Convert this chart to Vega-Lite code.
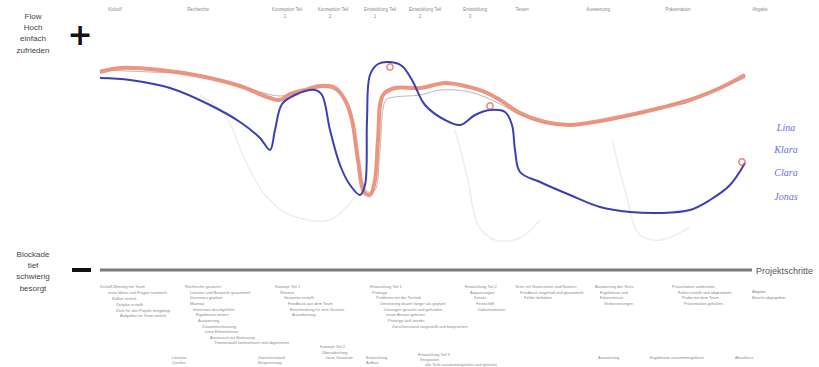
{
  "$schema": "https://vega.github.io/schema/vega-lite/v6.json",
  "width": 819,
  "height": 367,
  "padding": 0,
  "autosize": {"type": "fit", "contains": "padding"},
  "background": "white",
  "config": {"view": {"stroke": null}},
  "datasets": {
    "lines": [
      {"serie": "blass1", "i": 1, "x": 200, "y": 272}, {"serie": "blass1", "i": 2, "x": 225, "y": 252}, {"serie": "blass1", "i": 3, "x": 245, "y": 207}, {"serie": "blass1", "i": 4, "x": 265, "y": 172}, {"serie": "blass1", "i": 5, "x": 290, "y": 152}, {"serie": "blass1", "i": 6, "x": 330, "y": 147}, {"serie": "blass1", "i": 7, "x": 355, "y": 170},
      {"serie": "blass2", "i": 1, "x": 455, "y": 237}, {"serie": "blass2", "i": 2, "x": 468, "y": 187}, {"serie": "blass2", "i": 3, "x": 478, "y": 142}, {"serie": "blass2", "i": 4, "x": 495, "y": 127}, {"serie": "blass2", "i": 5, "x": 520, "y": 129}, {"serie": "blass2", "i": 6, "x": 540, "y": 147},
      {"serie": "blass3", "i": 1, "x": 612, "y": 227}, {"serie": "blass3", "i": 2, "x": 625, "y": 177}, {"serie": "blass3", "i": 3, "x": 640, "y": 132}, {"serie": "blass3", "i": 4, "x": 660, "y": 127}, {"serie": "blass3", "i": 5, "x": 690, "y": 140},
      {"serie": "grau", "i": 1, "x": 100, "y": 297}, {"serie": "grau", "i": 2, "x": 150, "y": 295}, {"serie": "grau", "i": 3, "x": 200, "y": 292}, {"serie": "grau", "i": 4, "x": 240, "y": 281}, {"serie": "grau", "i": 5, "x": 280, "y": 271}, {"serie": "grau", "i": 6, "x": 300, "y": 275}, {"serie": "grau", "i": 7, "x": 330, "y": 279}, {"serie": "grau", "i": 8, "x": 348, "y": 263}, {"serie": "grau", "i": 9, "x": 355, "y": 227}, {"serie": "grau", "i": 10, "x": 362, "y": 187}, {"serie": "grau", "i": 11, "x": 368, "y": 175}, {"serie": "grau", "i": 12, "x": 375, "y": 177}, {"serie": "grau", "i": 13, "x": 380, "y": 217}, {"serie": "grau", "i": 14, "x": 386, "y": 267}, {"serie": "grau", "i": 15, "x": 395, "y": 270}, {"serie": "grau", "i": 16, "x": 420, "y": 272}, {"serie": "grau", "i": 17, "x": 440, "y": 277}, {"serie": "grau", "i": 18, "x": 470, "y": 275}, {"serie": "grau", "i": 19, "x": 500, "y": 263}, {"serie": "grau", "i": 20, "x": 520, "y": 252}, {"serie": "grau", "i": 21, "x": 545, "y": 244}, {"serie": "grau", "i": 22, "x": 580, "y": 243}, {"serie": "grau", "i": 23, "x": 620, "y": 249}, {"serie": "grau", "i": 24, "x": 660, "y": 259}, {"serie": "grau", "i": 25, "x": 700, "y": 272}, {"serie": "grau", "i": 26, "x": 745, "y": 289},
      {"serie": "orange", "i": 1, "x": 100, "y": 295}, {"serie": "orange", "i": 2, "x": 120, "y": 299}, {"serie": "orange", "i": 3, "x": 160, "y": 297}, {"serie": "orange", "i": 4, "x": 200, "y": 291}, {"serie": "orange", "i": 5, "x": 240, "y": 281}, {"serie": "orange", "i": 6, "x": 270, "y": 269}, {"serie": "orange", "i": 7, "x": 280, "y": 267}, {"serie": "orange", "i": 8, "x": 290, "y": 273}, {"serie": "orange", "i": 9, "x": 305, "y": 277}, {"serie": "orange", "i": 10, "x": 320, "y": 281}, {"serie": "orange", "i": 11, "x": 335, "y": 279}, {"serie": "orange", "i": 12, "x": 345, "y": 267}, {"serie": "orange", "i": 13, "x": 352, "y": 247}, {"serie": "orange", "i": 14, "x": 358, "y": 207}, {"serie": "orange", "i": 15, "x": 364, "y": 175}, {"serie": "orange", "i": 16, "x": 370, "y": 172}, {"serie": "orange", "i": 17, "x": 375, "y": 187}, {"serie": "orange", "i": 18, "x": 378, "y": 227}, {"serie": "orange", "i": 19, "x": 383, "y": 272}, {"serie": "orange", "i": 20, "x": 395, "y": 279}, {"serie": "orange", "i": 21, "x": 420, "y": 279}, {"serie": "orange", "i": 22, "x": 445, "y": 284}, {"serie": "orange", "i": 23, "x": 465, "y": 281}, {"serie": "orange", "i": 24, "x": 485, "y": 275}, {"serie": "orange", "i": 25, "x": 500, "y": 267}, {"serie": "orange", "i": 26, "x": 520, "y": 254}, {"serie": "orange", "i": 27, "x": 545, "y": 245}, {"serie": "orange", "i": 28, "x": 570, "y": 242}, {"serie": "orange", "i": 29, "x": 600, "y": 246}, {"serie": "orange", "i": 30, "x": 630, "y": 252}, {"serie": "orange", "i": 31, "x": 660, "y": 259}, {"serie": "orange", "i": 32, "x": 690, "y": 267}, {"serie": "orange", "i": 33, "x": 720, "y": 279}, {"serie": "orange", "i": 34, "x": 745, "y": 292},
      {"serie": "blau", "i": 1, "x": 100, "y": 289}, {"serie": "blau", "i": 2, "x": 130, "y": 287}, {"serie": "blau", "i": 3, "x": 170, "y": 279}, {"serie": "blau", "i": 4, "x": 210, "y": 262}, {"serie": "blau", "i": 5, "x": 240, "y": 245}, {"serie": "blau", "i": 6, "x": 260, "y": 229}, {"serie": "blau", "i": 7, "x": 270, "y": 217}, {"serie": "blau", "i": 8, "x": 275, "y": 237}, {"serie": "blau", "i": 9, "x": 282, "y": 263}, {"serie": "blau", "i": 10, "x": 295, "y": 272}, {"serie": "blau", "i": 11, "x": 315, "y": 277}, {"serie": "blau", "i": 12, "x": 322, "y": 272}, {"serie": "blau", "i": 13, "x": 330, "y": 237}, {"serie": "blau", "i": 14, "x": 340, "y": 202}, {"serie": "blau", "i": 15, "x": 350, "y": 182}, {"serie": "blau", "i": 16, "x": 360, "y": 172}, {"serie": "blau", "i": 17, "x": 365, "y": 182}, {"serie": "blau", "i": 18, "x": 367, "y": 247}, {"serie": "blau", "i": 19, "x": 370, "y": 292}, {"serie": "blau", "i": 20, "x": 378, "y": 303}, {"serie": "blau", "i": 21, "x": 390, "y": 305}, {"serie": "blau", "i": 22, "x": 402, "y": 301}, {"serie": "blau", "i": 23, "x": 412, "y": 287}, {"serie": "blau", "i": 24, "x": 425, "y": 262}, {"serie": "blau", "i": 25, "x": 445, "y": 247}, {"serie": "blau", "i": 26, "x": 460, "y": 242}, {"serie": "blau", "i": 27, "x": 475, "y": 252}, {"serie": "blau", "i": 28, "x": 490, "y": 257}, {"serie": "blau", "i": 29, "x": 505, "y": 255}, {"serie": "blau", "i": 30, "x": 512, "y": 242}, {"serie": "blau", "i": 31, "x": 515, "y": 217}, {"serie": "blau", "i": 32, "x": 520, "y": 195}, {"serie": "blau", "i": 33, "x": 540, "y": 185}, {"serie": "blau", "i": 34, "x": 570, "y": 172}, {"serie": "blau", "i": 35, "x": 600, "y": 160}, {"serie": "blau", "i": 36, "x": 630, "y": 155}, {"serie": "blau", "i": 37, "x": 660, "y": 154}, {"serie": "blau", "i": 38, "x": 690, "y": 157}, {"serie": "blau", "i": 39, "x": 710, "y": 167}, {"serie": "blau", "i": 40, "x": 730, "y": 182}, {"serie": "blau", "i": 41, "x": 745, "y": 204}
    ],
    "marker": [
      {"x": 390, "y": 300}, {"x": 490, "y": 261}, {"x": 742, "y": 205}
    ],
    "achse": [{"x": 100, "x2": 752, "y": 97}],
    "minus": [{"x": 72, "x2": 91, "y": 97}],
    "gross": [
      {"x": 80, "y": 331, "t": "+"}
    ],
    "links": [
      {"x": 33, "y": 350, "t": "Flow"}, {"x": 33, "y": 339, "t": "Hoch"}, {"x": 33, "y": 328, "t": "einfach"}, {"x": 33, "y": 316, "t": "zufrieden"},
      {"x": 33, "y": 112, "t": "Blockade"}, {"x": 33, "y": 101, "t": "tief"}, {"x": 33, "y": 90, "t": "schwierig"}, {"x": 33, "y": 78, "t": "besorgt"},
      {"x": 756, "y": 96, "t": "Projektschritte", "a": "l"}
    ],
    "namen": [
      {"x": 786, "y": 239, "t": "Lina"}, {"x": 786, "y": 217, "t": "Klara"}, {"x": 786, "y": 194, "t": "Clara"}, {"x": 786, "y": 170, "t": "Jonas"}
    ],
    "oben": [
      {"x": 115, "y": 357, "t": "Kickoff"}, {"x": 198, "y": 357, "t": "Recherche"}, {"x": 287, "y": 357, "t": "Konzeption Teil"}, {"x": 285, "y": 350, "t": "1"},
      {"x": 333, "y": 357, "t": "Konzeption Teil"}, {"x": 330, "y": 350, "t": "2"}, {"x": 380, "y": 357, "t": "Entwicklung Teil"}, {"x": 375, "y": 350, "t": "1"},
      {"x": 425, "y": 357, "t": "Entwicklung Teil"}, {"x": 420, "y": 350, "t": "2"}, {"x": 475, "y": 357, "t": "Entwicklung"}, {"x": 470, "y": 350, "t": "3"},
      {"x": 522, "y": 357, "t": "Testen"}, {"x": 598, "y": 357, "t": "Auswertung"}, {"x": 678, "y": 357, "t": "Präsentation"}, {"x": 760, "y": 357, "t": "Abgabe"}
    ],
    "unten": [
      {"x": 100, "y": 80, "t": "Kickoff-Meeting mit Team"}, {"x": 108, "y": 74, "t": "erste Ideen und Fragen sammeln"}, {"x": 112, "y": 68, "t": "Rollen verteilt"}, {"x": 116, "y": 62, "t": "Zeitplan erstellt"}, {"x": 116, "y": 56, "t": "Ziele für das Projekt festgelegt"}, {"x": 120, "y": 51, "t": "Aufgaben im Team verteilt"},
      {"x": 185, "y": 80, "t": "Recherche gestartet"}, {"x": 190, "y": 74, "t": "Literatur und Beispiele gesammelt"}, {"x": 190, "y": 69, "t": "Interviews geplant"}, {"x": 190, "y": 63, "t": "Material"}, {"x": 193, "y": 57, "t": "Interviews durchgeführt"}, {"x": 196, "y": 52, "t": "Ergebnisse notiert"}, {"x": 198, "y": 46, "t": "Auswertung"}, {"x": 202, "y": 40, "t": "Zusammenfassung"}, {"x": 205, "y": 35, "t": "erste Erkenntnisse"}, {"x": 210, "y": 29, "t": "Austausch mit Betreuung"}, {"x": 214, "y": 24, "t": "Themenwahl konkretisiert und abgestimmt"},
      {"x": 275, "y": 80, "t": "Konzept Teil 1"}, {"x": 280, "y": 74, "t": "Skizzen"}, {"x": 284, "y": 69, "t": "Varianten erstellt"}, {"x": 288, "y": 63, "t": "Feedback aus dem Team"}, {"x": 290, "y": 57, "t": "Entscheidung für eine Variante"}, {"x": 292, "y": 52, "t": "Ausarbeitung"},
      {"x": 370, "y": 80, "t": "Entwicklung Teil 1"}, {"x": 372, "y": 74, "t": "Prototyp"}, {"x": 376, "y": 69, "t": "Probleme mit der Technik"}, {"x": 380, "y": 63, "t": "Umsetzung dauert länger als geplant"}, {"x": 384, "y": 57, "t": "Lösungen gesucht und gefunden"}, {"x": 386, "y": 52, "t": "neuer Ansatz getestet"}, {"x": 388, "y": 46, "t": "Prototyp läuft wieder"}, {"x": 392, "y": 40, "t": "Zwischenstand vorgestellt und besprochen"},
      {"x": 465, "y": 80, "t": "Entwicklung Teil 2"}, {"x": 470, "y": 74, "t": "Anpassungen"}, {"x": 474, "y": 69, "t": "Details"}, {"x": 476, "y": 63, "t": "Feinschliff"}, {"x": 478, "y": 57, "t": "Dokumentation"},
      {"x": 515, "y": 80, "t": "Tests mit Nutzerinnen und Nutzern"}, {"x": 520, "y": 74, "t": "Feedback eingeholt und gesammelt"}, {"x": 524, "y": 69, "t": "Fehler behoben"},
      {"x": 595, "y": 80, "t": "Auswertung der Tests"}, {"x": 600, "y": 74, "t": "Ergebnisse und"}, {"x": 600, "y": 69, "t": "Erkenntnisse"}, {"x": 604, "y": 63, "t": "Verbesserungen"},
      {"x": 672, "y": 80, "t": "Präsentation vorbereitet"}, {"x": 678, "y": 74, "t": "Folien erstellt und abgestimmt"}, {"x": 682, "y": 69, "t": "Probe mit dem Team"}, {"x": 684, "y": 63, "t": "Präsentation gehalten"},
      {"x": 752, "y": 75, "t": "Abgabe"}, {"x": 752, "y": 69, "t": "Bericht abgegeben"},
      {"x": 172, "y": 9, "t": "Literatur"}, {"x": 172, "y": 4, "t": "Quellen"}, {"x": 258, "y": 9, "t": "Zwischenstand"}, {"x": 258, "y": 4, "t": "Besprechung"}, {"x": 320, "y": 20, "t": "Konzept Teil 2"}, {"x": 322, "y": 14, "t": "Überarbeitung"}, {"x": 326, "y": 9, "t": "neue Varianten"},
      {"x": 366, "y": 9, "t": "Entwicklung"}, {"x": 366, "y": 4, "t": "Aufbau"}, {"x": 418, "y": 12, "t": "Entwicklung Teil 3"}, {"x": 420, "y": 7, "t": "Integration"}, {"x": 425, "y": 2, "t": "alle Teile zusammengeführt und getestet"},
      {"x": 598, "y": 9, "t": "Auswertung"}, {"x": 650, "y": 9, "t": "Ergebnisse zusammengefasst"}, {"x": 735, "y": 9, "t": "Abschluss"}
    ]
  },
  "layer": [
    {
      "data": {"name": "lines"},
      "transform": [{"filter": "indexof(datum.serie, 'blass') === 0"}],
      "mark": {"type": "line", "interpolate": "catmull-rom", "color": "#f5ebe9", "strokeWidth": 1.5},
      "encoding": {
        "x": {"field": "x", "type": "quantitative", "scale": {"domain": [0, 819], "nice": false, "zero": false}, "axis": null},
        "y": {"field": "y", "type": "quantitative", "scale": {"domain": [0, 367], "nice": false, "zero": false}, "axis": null},
        "detail": {"field": "serie"},
        "order": {"field": "i"}
      }
    },
    {
      "data": {"name": "lines"},
      "transform": [{"filter": "datum.serie === 'grau'"}],
      "mark": {"type": "line", "interpolate": "catmull-rom", "color": "#b8b8b8", "strokeWidth": 1},
      "encoding": {
        "x": {"field": "x", "type": "quantitative"},
        "y": {"field": "y", "type": "quantitative"},
        "order": {"field": "i"}
      }
    },
    {
      "data": {"name": "lines"},
      "transform": [{"filter": "datum.serie === 'orange'"}],
      "mark": {"type": "line", "interpolate": "catmull-rom", "color": "#ea8a72", "strokeWidth": 4, "opacity": 0.9},
      "encoding": {
        "x": {"field": "x", "type": "quantitative"},
        "y": {"field": "y", "type": "quantitative"},
        "order": {"field": "i"}
      }
    },
    {
      "data": {"name": "lines"},
      "transform": [{"filter": "datum.serie === 'blau'"}],
      "mark": {"type": "line", "interpolate": "catmull-rom", "color": "#3b3fb5", "strokeWidth": 2},
      "encoding": {
        "x": {"field": "x", "type": "quantitative"},
        "y": {"field": "y", "type": "quantitative"},
        "order": {"field": "i"}
      }
    },
    {
      "data": {"name": "marker"},
      "mark": {"type": "point", "shape": "circle", "filled": false, "color": "#e0503a", "size": 40, "strokeWidth": 1.5},
      "encoding": {
        "x": {"field": "x", "type": "quantitative"},
        "y": {"field": "y", "type": "quantitative"}
      }
    },
    {
      "data": {"name": "achse"},
      "mark": {"type": "rule", "color": "#7a7a7a", "strokeWidth": 3},
      "encoding": {
        "x": {"field": "x", "type": "quantitative"},
        "x2": {"field": "x2"},
        "y": {"field": "y", "type": "quantitative"}
      }
    },
    {
      "data": {"name": "minus"},
      "mark": {"type": "rule", "color": "#111111", "strokeWidth": 4},
      "encoding": {
        "x": {"field": "x", "type": "quantitative"},
        "x2": {"field": "x2"},
        "y": {"field": "y", "type": "quantitative"}
      }
    },
    {
      "data": {"name": "gross"},
      "mark": {"type": "text", "font": "DejaVu Sans", "fontSize": 30, "fontWeight": "bold", "color": "#111111", "align": "center", "baseline": "middle"},
      "encoding": {
        "x": {"field": "x", "type": "quantitative"},
        "y": {"field": "y", "type": "quantitative"},
        "text": {"field": "t"}
      }
    },
    {
      "data": {"name": "links"},
      "transform": [{"filter": "datum.a !== 'l'"}],
      "mark": {"type": "text", "font": "Liberation Sans", "fontSize": 8, "color": "#444444", "align": "center", "baseline": "middle"},
      "encoding": {
        "x": {"field": "x", "type": "quantitative"},
        "y": {"field": "y", "type": "quantitative"},
        "text": {"field": "t"}
      }
    },
    {
      "data": {"name": "links"},
      "transform": [{"filter": "datum.a === 'l'"}],
      "mark": {"type": "text", "font": "Liberation Sans", "fontSize": 9, "color": "#555555", "align": "left", "baseline": "middle"},
      "encoding": {
        "x": {"field": "x", "type": "quantitative"},
        "y": {"field": "y", "type": "quantitative"},
        "text": {"field": "t"}
      }
    },
    {
      "data": {"name": "namen"},
      "mark": {"type": "text", "font": "Liberation Serif", "fontStyle": "italic", "fontSize": 10, "color": "#6a6ed6", "align": "center", "baseline": "middle"},
      "encoding": {
        "x": {"field": "x", "type": "quantitative"},
        "y": {"field": "y", "type": "quantitative"},
        "text": {"field": "t"}
      }
    },
    {
      "data": {"name": "oben"},
      "mark": {"type": "text", "font": "Liberation Sans", "fontSize": 4.5, "color": "#8a8a8a", "align": "center", "baseline": "middle"},
      "encoding": {
        "x": {"field": "x", "type": "quantitative"},
        "y": {"field": "y", "type": "quantitative"},
        "text": {"field": "t"}
      }
    },
    {
      "data": {"name": "unten"},
      "mark": {"type": "text", "font": "Liberation Sans", "fontSize": 4, "color": "#8a8a8a", "align": "left", "baseline": "middle"},
      "encoding": {
        "x": {"field": "x", "type": "quantitative"},
        "y": {"field": "y", "type": "quantitative"},
        "text": {"field": "t"}
      }
    }
  ]
}
